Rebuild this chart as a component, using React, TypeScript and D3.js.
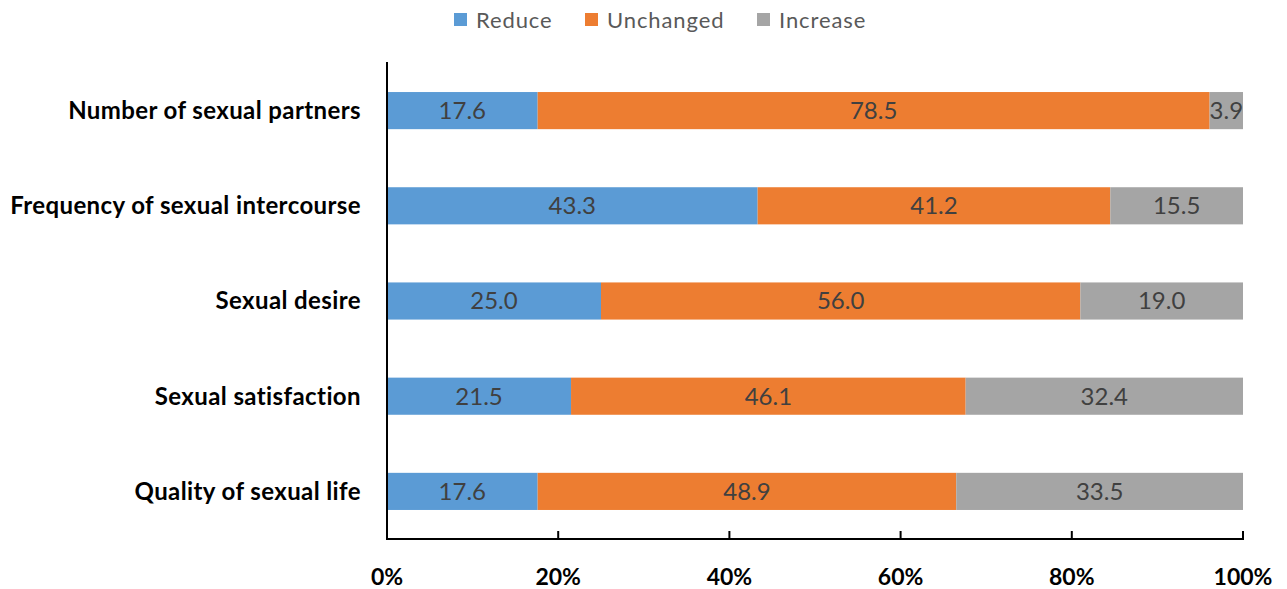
import React from "react";
import * as d3 from "d3";

const categories = [
  "Number of sexual partners",
  "Frequency of sexual intercourse",
  "Sexual desire",
  "Sexual satisfaction",
  "Quality of sexual life",
];
const seriesNames = ["Reduce", "Unchanged", "Increase"];
const reduceValues = [17.6, 43.3, 25.0, 21.5, 17.6];
const unchangedValues = [78.5, 41.2, 56.0, 46.1, 48.9];
const increaseValues = [3.9, 15.5, 19.0, 32.4, 33.5];
const xTicks = [0, 20, 40, 60, 80, 100];
const colors = ["#5B9BD5", "#ED7D31", "#A5A5A5"];

const W = 1287;
const H = 589;
const margin = { left: 387, right: 44, top: 63, bottom: 50 };
const FONT = "Lato, 'Open Sans', sans-serif";

export default function App() {
  const x = d3.scaleLinear().domain([0, 100]).range([margin.left, W - margin.right]);
  const y = d3
    .scaleBand<string>()
    .domain(categories)
    .range([margin.top, H - margin.bottom])
    .paddingInner(0.61)
    .paddingOuter(0.305);

  const rows = categories.map((c, i) => ({
    category: c,
    Reduce: reduceValues[i],
    Unchanged: unchangedValues[i],
    Increase: increaseValues[i],
  }));
  const stacked = d3.stack<any>().keys(seriesNames)(rows);

  const axisY = H - margin.bottom;
  const legendItems = [
    { name: "Reduce", x: 454 },
    { name: "Unchanged", x: 585 },
    { name: "Increase", x: 757 },
  ];

  return (
    <svg width={W} height={H} style={{ display: "block", position: "absolute", left: 0, top: 0, background: "#fff" }}>
      {/* legend */}
      {legendItems.map((l, i) => (
        <g key={l.name}>
          <rect x={l.x} y={13} width={13} height={13} fill={colors[i]} />
          <text
            x={l.x + 22}
            y={20}
            dy="0.35em"
            fontFamily={FONT}
            fontSize={22}
            letterSpacing={0.9}
            fill="#595959"
          >
            {l.name}
          </text>
        </g>
      ))}

      {/* bars */}
      {stacked.map((layer, si) =>
        layer.map((d, i) => {
          const x0 = x(d[0]);
          const x1 = x(d[1]);
          const yy = y(categories[i])!;
          const v = d[1] - d[0];
          return (
            <g key={`${si}-${i}`}>
              <rect x={x0} y={yy} width={x1 - x0} height={y.bandwidth()} fill={colors[si]} />
              <text
                x={(x0 + x1) / 2}
                y={yy + y.bandwidth() / 2}
                dy="0.35em"
                textAnchor="middle"
                fontFamily={FONT}
                fontSize={24}
                fill="#404040"
              >
                {v.toFixed(1)}
              </text>
            </g>
          );
        })
      )}

      {/* category labels */}
      {categories.map((c) => (
        <text
          key={c}
          x={margin.left - 26}
          y={y(c)! + y.bandwidth() / 2}
          dy="0.35em"
          textAnchor="end"
          fontFamily={FONT}
          fontWeight="bold"
          fontSize={24}
          letterSpacing={0.4}
          fill="#000"
        >
          {c}
        </text>
      ))}

      {/* axes */}
      <line x1={margin.left} x2={margin.left} y1={margin.top - 1} y2={axisY} stroke="#000" strokeWidth={2} />
      <line x1={margin.left - 1} x2={x(100) + 1} y1={axisY} y2={axisY} stroke="#000" strokeWidth={2} />
      {xTicks.map((t) => (
        <g key={t}>
          {t > 0 && <line x1={x(t)} x2={x(t)} y1={axisY - 8} y2={axisY} stroke="#000" strokeWidth={2} />}
          <text
            x={x(t)}
            y={577}
            dy="0.35em"
            textAnchor="middle"
            fontFamily={FONT}
            fontWeight="bold"
            fontSize={23}
            fill="#000"
          >
            {t}%
          </text>
        </g>
      ))}
    </svg>
  );
}
